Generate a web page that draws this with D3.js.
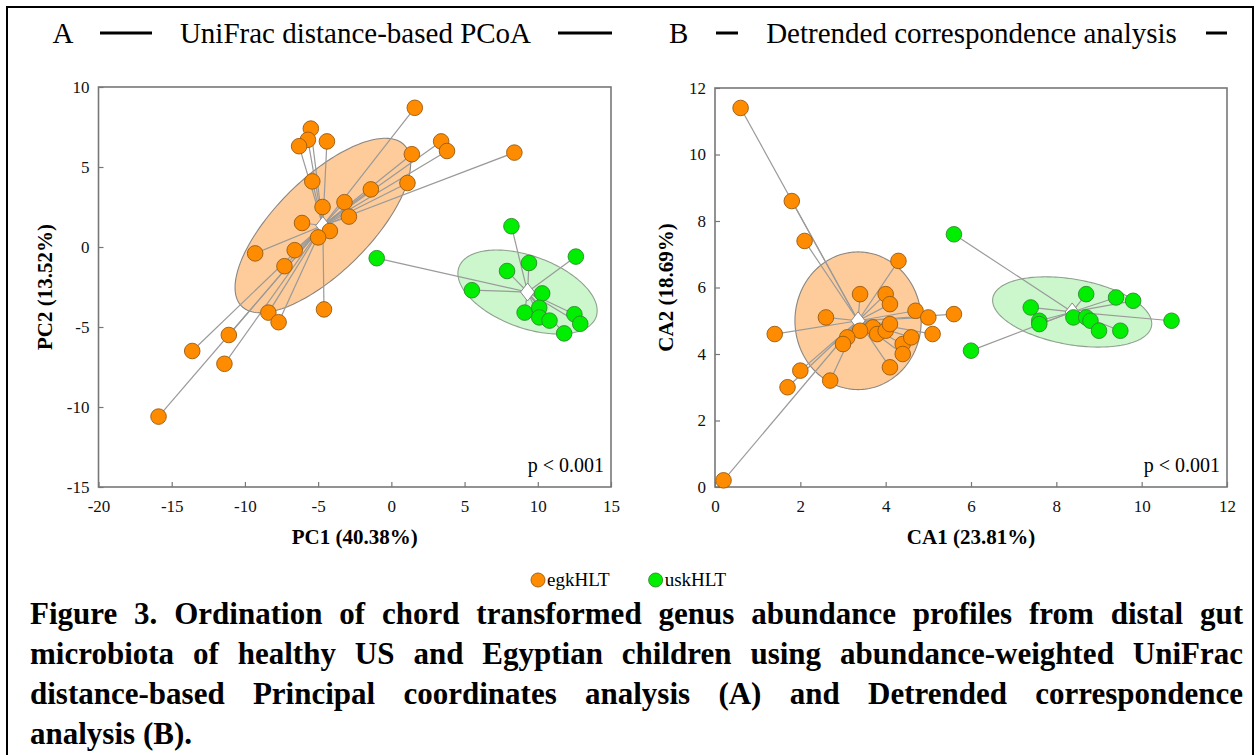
<!DOCTYPE html>
<html>
<head>
<meta charset="utf-8">
<script src="https://cdn.jsdelivr.net/npm/d3@7"></script>
<style>
  body { margin: 0; background: #fff; }
  svg text { font-family: "Liberation Serif", "Times New Roman", serif; }
</style>
</head>
<body>
<div id="chart"></div>
<script>
// Groups
const groups = ["egkHLT", "uskHLT"];

// Panel A - UniFrac distance-based PCoA (PC1, PC2)
const pcoaEgk = [
  [1.6, 8.7], [-5.5, 7.4], [-5.7, 6.7], [-6.3, 6.3], [-4.4, 6.6], [1.4, 5.8],
  [-5.4, 4.1], [1.1, 4.0], [-1.4, 3.6], [-3.2, 2.8], [-4.7, 2.5], [-2.9, 1.9],
  [-6.1, 1.5], [-4.2, 1.0], [-5.0, 0.6], [-9.3, -0.4], [-6.6, -0.2], [-7.3, -1.2],
  [-8.4, -4.1], [-7.7, -4.7], [-4.6, -3.9], [-11.1, -5.5], [3.4, 6.6], [3.8, 6.0],
  [8.4, 5.9], [-13.6, -6.5], [-11.4, -7.3], [-15.9, -10.6]
];
const pcoaUsk = [
  [8.2, 1.3], [-1.0, -0.7], [12.6, -0.6], [9.4, -1.0], [7.9, -1.5], [5.5, -2.7],
  [10.3, -2.9], [9.1, -4.1], [10.1, -3.8], [10.1, -4.4], [10.8, -4.6], [12.5, -4.2],
  [12.9, -4.8], [11.8, -5.4]
];
// ellipse semi-axis vectors (data units) around each group centroid
const pcoaEllipses = [
  { u: [5.55, 5.04], v: [2.27, -2.08] },
  { u: [4.68, -1.56], v: [-0.84, -2.11] }
];
const pcoaXTicks = [-20, -15, -10, -5, 0, 5, 10, 15];
const pcoaYTicks = [-15, -10, -5, 0, 5, 10];

// Panel B - Detrended correspondence analysis (CA1, CA2)
const dcaEgk = [
  [0.6, 11.4], [1.8, 8.6], [2.1, 7.4], [4.3, 6.8], [3.4, 5.8], [4.0, 5.8],
  [4.1, 5.5], [2.6, 5.1], [4.7, 5.3], [5.0, 5.1], [1.4, 4.6], [5.1, 4.6],
  [3.7, 4.8], [3.8, 4.6], [4.0, 4.7], [4.1, 4.9], [3.4, 4.7], [3.1, 4.5],
  [3.0, 4.3], [4.4, 4.3], [4.6, 4.5], [4.4, 4.0], [4.1, 3.6], [2.0, 3.5],
  [1.7, 3.0], [2.7, 3.2], [0.2, 0.2], [5.6, 5.2]
];
const dcaUsk = [
  [5.6, 7.6], [6.0, 4.1], [7.4, 5.4], [7.6, 5.0], [7.6, 4.9], [8.7, 5.8],
  [8.4, 5.1], [8.7, 5.1], [8.8, 5.0], [9.0, 4.7], [9.4, 5.7], [9.8, 5.6],
  [9.5, 4.7], [10.7, 5.0]
];
const dcaEllipses = [
  { u: [1.48, 0], v: [0, 2.07] },
  { u: [1.86, -0.42], v: [-0.13, -0.97] }
];
const dcaXTicks = [0, 2, 4, 6, 8, 10, 12];
const dcaYTicks = [0, 2, 4, 6, 8, 10, 12];

const caption = [
  "Figure 3. Ordination of chord transformed genus abundance profiles from distal gut",
  "microbiota of healthy US and Egyptian children using abundance-weighted UniFrac",
  "distance-based Principal coordinates analysis (A) and Detrended correspondence",
  "analysis (B)."
];

// styles
const pointFill = ["#ff8c00", "#00ee00"];
const pointStroke = ["#9a5a10", "#2f8a2f"];
const ellipseFill = ["#fdcc9a", "#ccf7cc"];
const ellipseStroke = ["#8a8580", "#8fa08f"];

const width = 1260;
const height = 755;

const svg = d3.select("#chart")
  .append("svg")
  .attr("width", width)
  .attr("height", height);

// outer box
svg.append("rect")
  .attr("x", 7).attr("y", 7)
  .attr("width", 1246).attr("height", 780)
  .attr("fill", "none")
  .attr("stroke", "#000")
  .attr("stroke-width", 2);

function drawPanel(cfg) {
  const x = d3.scaleLinear().domain(cfg.xDomain).range([cfg.left, cfg.right]);
  const y = d3.scaleLinear().domain(cfg.yDomain).range([cfg.bottom, cfg.top]);
  const g = svg.append("g");

  // header: letter, rule, title, rule
  const hy = 33;
  g.append("text").attr("x", cfg.left - 46).attr("y", hy + 10)
    .style("font-size", "29px").text(cfg.letter);
  g.append("line").attr("x1", cfg.rule1[0]).attr("x2", cfg.rule1[1])
    .attr("y1", hy).attr("y2", hy).attr("stroke", "#000").attr("stroke-width", 3);
  g.append("text").attr("x", cfg.titleX).attr("y", hy + 10)
    .attr("text-anchor", "middle")
    .style("font-size", "29px").text(cfg.title);
  g.append("line").attr("x1", cfg.rule2[0]).attr("x2", cfg.rule2[1])
    .attr("y1", hy).attr("y2", hy).attr("stroke", "#000").attr("stroke-width", 3);

  // axes (ticks point inward)
  const xAxis = g.append("g")
    .attr("transform", `translate(0,${cfg.bottom})`)
    .call(d3.axisBottom(x).tickValues(cfg.xTicks).tickFormat((d) => String(d))
      .tickSizeInner(-5).tickSizeOuter(0).tickPadding(13));
  const yAxis = g.append("g")
    .attr("transform", `translate(${cfg.left},0)`)
    .call(d3.axisLeft(y).tickValues(cfg.yTicks).tickFormat((d) => String(d))
      .tickSizeInner(-5).tickSizeOuter(0).tickPadding(9));
  [xAxis, yAxis].forEach((a) => {
    a.attr("font-family", null);
    a.select(".domain").remove();
    a.selectAll(".tick line").attr("stroke", "#777").attr("stroke-width", 1.2);
    a.selectAll(".tick text")
      .attr("fill", "#111")
      .style("font-size", "17px")
      .style("font-family", "'Liberation Serif', 'Times New Roman', serif");
  });

  // frame
  g.append("rect")
    .attr("x", cfg.left).attr("y", cfg.top)
    .attr("width", cfg.right - cfg.left).attr("height", cfg.bottom - cfg.top)
    .attr("fill", "none").attr("stroke", "#777").attr("stroke-width", 1.6);

  // axis titles
  g.append("text")
    .attr("x", (cfg.left + cfg.right) / 2).attr("y", cfg.bottom + 57)
    .attr("text-anchor", "middle")
    .style("font-size", "21px").style("font-weight", "bold")
    .text(cfg.xLabel);
  g.append("text")
    .attr("transform", `translate(${cfg.yLabelX},${(cfg.top + cfg.bottom) / 2}) rotate(-90)`)
    .attr("text-anchor", "middle")
    .attr("dy", "0.35em")
    .style("font-size", "21px").style("font-weight", "bold")
    .text(cfg.yLabel);

  // p value
  g.append("text")
    .attr("x", cfg.right - 7).attr("y", cfg.bottom - 15)
    .attr("text-anchor", "end")
    .style("font-size", "20px")
    .text("p < 0.001");

  const sets = cfg.series.map((pts, i) => ({
    i,
    pts,
    cx: d3.mean(pts, (d) => d[0]),
    cy: d3.mean(pts, (d) => d[1]),
    ell: cfg.ellipses[i]
  }));

  // ellipses
  const line = d3.line().curve(d3.curveLinearClosed);
  sets.forEach((s) => {
    const ring = d3.range(0, 2 * Math.PI, Math.PI / 90).map((t) => [
      x(s.cx + s.ell.u[0] * Math.cos(t) + s.ell.v[0] * Math.sin(t)),
      y(s.cy + s.ell.u[1] * Math.cos(t) + s.ell.v[1] * Math.sin(t))
    ]);
    g.append("path")
      .attr("d", line(ring))
      .attr("fill", ellipseFill[s.i])
      .attr("stroke", ellipseStroke[s.i])
      .attr("stroke-width", 1.1);
  });

  // spokes to centroid
  sets.forEach((s) => {
    g.append("g")
      .selectAll("line")
      .data(s.pts)
      .join("line")
      .attr("x1", (d) => x(d[0])).attr("y1", (d) => y(d[1]))
      .attr("x2", x(s.cx)).attr("y2", y(s.cy))
      .attr("stroke", "#9a9a9a").attr("stroke-width", 1.2);
  });

  // centroids
  sets.forEach((s) => {
    g.append("path")
      .attr("transform", `translate(${x(s.cx)},${y(s.cy)})`)
      .attr("d", "M0,-9L7,0L0,9L-7,0Z")
      .attr("fill", "#fff")
      .attr("stroke", "#888")
      .attr("stroke-width", 1);
  });

  // points
  sets.forEach((s) => {
    g.append("g")
      .selectAll("circle")
      .data(s.pts)
      .join("circle")
      .attr("cx", (d) => x(d[0])).attr("cy", (d) => y(d[1]))
      .attr("r", 7.8)
      .attr("fill", pointFill[s.i])
      .attr("stroke", pointStroke[s.i])
      .attr("stroke-width", 0.9);
  });
}

drawPanel({
  letter: "A",
  title: "UniFrac distance-based PCoA",
  titleX: 355.5,
  rule1: [100, 152],
  rule2: [558, 612],
  left: 98.5, right: 611, top: 87, bottom: 487,
  xDomain: [-20, 15], yDomain: [-15, 10],
  xTicks: pcoaXTicks, yTicks: pcoaYTicks,
  xLabel: "PC1 (40.38%)", yLabel: "PC2 (13.52%)", yLabelX: 45,
  series: [pcoaEgk, pcoaUsk],
  ellipses: pcoaEllipses
});

drawPanel({
  letter: "B",
  title: "Detrended correspondence analysis",
  titleX: 971.5,
  rule1: [716, 738],
  rule2: [1206, 1227],
  left: 715, right: 1227, top: 88, bottom: 487,
  xDomain: [0, 12], yDomain: [0, 12],
  xTicks: dcaXTicks, yTicks: dcaYTicks,
  xLabel: "CA1 (23.81%)", yLabel: "CA2 (18.69%)", yLabelX: 666,
  series: [dcaEgk, dcaUsk],
  ellipses: dcaEllipses
});

// legend
const legend = svg.append("g").attr("transform", "translate(538,580)");
let lx = 0;
groups.forEach((name, i) => {
  legend.append("circle")
    .attr("cx", lx).attr("cy", 0).attr("r", 7)
    .attr("fill", pointFill[i]).attr("stroke", pointStroke[i]).attr("stroke-width", 0.9);
  const t = legend.append("text")
    .attr("x", lx + 9).attr("y", 6)
    .style("font-size", "19px")
    .text(name);
  lx += 9 + t.node().getComputedTextLength() + 46;
});

// caption, justified line by line
const capLeft = 30;
const capRight = 1243;
caption.forEach((txt, li) => {
  const yy = 624 + li * 40;
  const words = txt.split(" ");
  const nodes = words.map((w) =>
    svg.append("text")
      .attr("y", yy)
      .style("font-size", "31px")
      .style("font-weight", "bold")
      .text(w)
  );
  const widths = nodes.map((n) => n.node().getComputedTextLength());
  const total = d3.sum(widths);
  const last = li === caption.length - 1;
  const gap = last ? 7.8 : (capRight - capLeft - total) / (words.length - 1);
  let cx = capLeft;
  nodes.forEach((n, k) => {
    n.attr("x", cx);
    cx += widths[k] + gap;
  });
});
</script>
</body>
</html>
